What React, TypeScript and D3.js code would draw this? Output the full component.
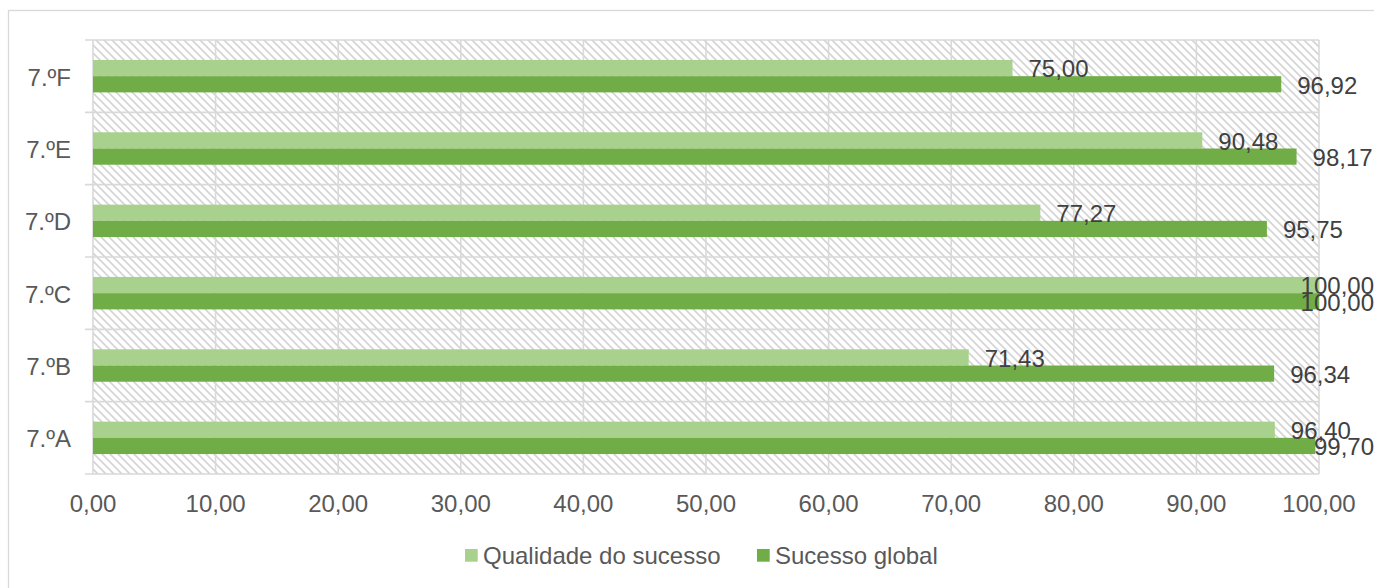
import React, { useEffect, useRef } from "react";
import * as d3 from "d3";

const categories = ["7.ºF", "7.ºE", "7.ºD", "7.ºC", "7.ºB", "7.ºA"];
const qualidade = [75.0, 90.48, 77.27, 100.0, 71.43, 96.4];
const global = [96.92, 98.17, 95.75, 100.0, 96.34, 99.7];
const seriesNames = ["Qualidade do sucesso", "Sucesso global"];
const seriesColors = ["#A9D18E", "#70AD47"];
const xTicks = [0, 10, 20, 30, 40, 50, 60, 70, 80, 90, 100];

const W = 1374;
const H = 588;
const FONT = "'Liberation Sans', Arial, sans-serif";
const fmt = (v: number) => v.toFixed(2).replace(".", ",");

export default function App() {
  const ref = useRef<SVGSVGElement | null>(null);

  useEffect(() => {
    const svg = d3.select(ref.current);
    svg.selectAll("*").remove();

    const left = 93, right = 1319, top = 40, bottom = 474;
    const x = d3.scaleLinear().domain([0, 100]).range([left, right]);
    const y = d3.scaleBand<string>().domain(categories).range([top, bottom]).paddingInner(0).paddingOuter(0);
    const inner = d3.scaleBand<number>().domain([0, 1]).range([0, y.bandwidth()]).paddingInner(0).paddingOuter(1.23);

    const defs = svg.append("defs");
    const pat = defs.append("pattern").attr("id", "hatch").attr("patternUnits", "userSpaceOnUse")
      .attr("width", 8).attr("height", 8);
    pat.append("rect").attr("width", 8).attr("height", 8).attr("fill", "#ffffff");
    pat.append("path").attr("d", "M-2,-2L10,10M-2,6L2,10M6,-2L10,2")
      .attr("stroke", "#d4d4d4").attr("stroke-width", 1.6);

    // outer frame
    svg.append("rect").attr("x", 8.5).attr("y", 10.5).attr("width", W + 20).attr("height", H + 20)
      .attr("fill", "#ffffff").attr("stroke", "#d9d9d9").attr("stroke-width", 1.3);

    // plot area hatched
    svg.append("rect").attr("x", left).attr("y", top).attr("width", right - left).attr("height", bottom - top)
      .attr("fill", "url(#hatch)");

    // vertical gridlines
    svg.append("g").selectAll("line").data(xTicks).join("line")
      .attr("x1", (d) => x(d)).attr("x2", (d) => x(d)).attr("y1", top).attr("y2", bottom)
      .attr("stroke", "#d9d9d9").attr("stroke-width", 1.6);

    // horizontal gridlines with left ticks
    const bounds = categories.map((c) => y(c) as number).concat([bottom]);
    svg.append("g").selectAll("line").data(bounds).join("line")
      .attr("x1", left - 8).attr("x2", right).attr("y1", (d) => d).attr("y2", (d) => d)
      .attr("stroke", "#d9d9d9").attr("stroke-width", 1.6);

    // bars
    const seriesData = [qualidade, global];
    seriesData.forEach((vals, si) => {
      svg.append("g").selectAll("rect").data(vals).join("rect")
        .attr("x", x(0))
        .attr("y", (_d, i) => (y(categories[i]) as number) + (inner(si) as number))
        .attr("width", (d) => x(d) - x(0))
        .attr("height", inner.bandwidth())
        .attr("fill", seriesColors[si]);
    });

    // data labels
    const limit = 1374;
    seriesData.forEach((vals, si) => {
      svg.append("g").selectAll("text").data(vals).join("text")
        .attr("y", (_d, i) => (y(categories[i]) as number) + (inner(si) as number) + inner.bandwidth() / 2 + 1)
        .attr("dy", "0.35em")
        .attr("font-family", FONT).attr("font-size", 24).attr("fill", "#404040")
        .text((d) => fmt(d))
        .each(function (d) {
          const t = this as SVGTextElement;
          const w = t.getComputedTextLength();
          let px = x(d) + 16;
          if (px + w > limit) px = limit - w;
          d3.select(t).attr("x", px);
        });
    });

    // category labels
    svg.append("g").selectAll("text").data(categories).join("text")
      .attr("x", 71).attr("y", (d) => (y(d) as number) + y.bandwidth() / 2 + 1)
      .attr("dy", "0.35em").attr("text-anchor", "end")
      .attr("font-family", FONT).attr("font-size", 24).attr("fill", "#595959")
      .text((d) => d);

    // x tick labels
    svg.append("g").selectAll("text").data(xTicks).join("text")
      .attr("x", (d) => x(d)).attr("y", bottom + 30).attr("dy", "0.35em").attr("text-anchor", "middle")
      .attr("font-family", FONT).attr("font-size", 24).attr("fill", "#595959")
      .text((d) => fmt(d));

    // legend
    const legX = [465, 757];
    seriesNames.forEach((name, i) => {
      svg.append("rect").attr("x", legX[i]).attr("y", 549).attr("width", 12.7).attr("height", 12.7)
        .attr("fill", seriesColors[i]);
      svg.append("text").attr("x", legX[i] + 18).attr("y", 555.5).attr("dy", "0.35em")
        .attr("font-family", FONT).attr("font-size", 24).attr("fill", "#595959").text(name);
    });
  }, []);

  return (
    <svg ref={ref} width={W} height={H}
      style={{ position: "absolute", left: 0, top: 0, display: "block" }} />
  );
}
